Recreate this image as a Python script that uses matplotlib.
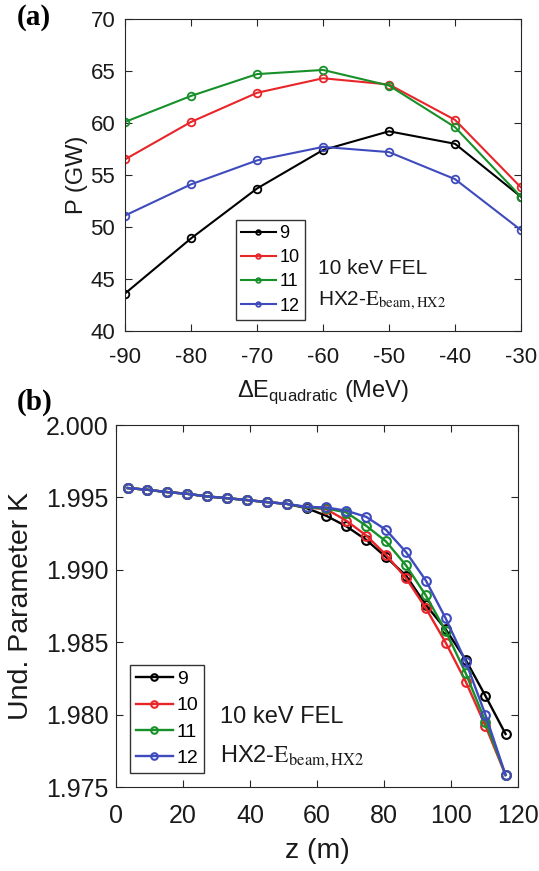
import matplotlib
matplotlib.use("Agg")
import matplotlib.pyplot as plt
import numpy as np

plt.rcParams['font.family'] = ['Liberation Sans', 'DejaVu Sans']
plt.rcParams['axes.unicode_minus'] = False

# ---------------- data ----------------
series_labels = ['9', '10', '11', '12']
colors = ['#000000', '#e8262a', '#17902a', '#3f4bbd']

dE = [-90, -80, -70, -60, -50, -40, -30]
P_9 = [43.6, 48.9, 53.7, 57.4, 59.2, 58.0, 52.9]
P_10 = [56.5, 60.1, 62.9, 64.3, 63.7, 60.3, 53.8]
P_11 = [60.1, 62.6, 64.7, 65.1, 63.6, 59.6, 52.9]
P_12 = [51.1, 54.1, 56.4, 57.7, 57.2, 54.6, 49.7]

z = [3.5, 9.4, 15.3, 21.3, 27.2, 33.1, 39.1, 45.0, 50.9, 56.9,
     62.8, 68.8, 74.7, 80.6, 86.6, 92.5, 98.4, 104.4, 110.3, 116.3]
K_9 = [1.99565, 1.99553, 1.99537, 1.99525, 1.99507, 1.99495, 1.99482, 1.99468, 1.99456,
       1.99426, 1.99373, 1.99300, 1.99207, 1.99088, 1.98960, 1.98758, 1.98590, 1.98378, 1.98129, 1.97866]
K_10 = [1.99565, 1.99553, 1.99537, 1.99525, 1.99507, 1.99495, 1.99482, 1.99468, 1.99456,
        1.99431, 1.99419, 1.99339, 1.99237, 1.99104, 1.98942, 1.98735, 1.98498, 1.98228, 1.97922, 1.97583]
K_11 = [1.99565, 1.99553, 1.99537, 1.99525, 1.99507, 1.99495, 1.99482, 1.99468, 1.99456,
        1.99431, 1.99424, 1.99396, 1.99304, 1.99196, 1.99030, 1.98823, 1.98578, 1.98286, 1.97952, 1.97583]
K_12 = [1.99565, 1.99553, 1.99537, 1.99525, 1.99507, 1.99495, 1.99482, 1.99468, 1.99456,
        1.99435, 1.99431, 1.99408, 1.99366, 1.99276, 1.99122, 1.98926, 1.98666, 1.98366, 1.97998, 1.97583]

xticks_a = [-90, -80, -70, -60, -50, -40, -30]
yticks_a = [40, 45, 50, 55, 60, 65, 70]
xticks_b = [0, 20, 40, 60, 80, 100, 120]
yticks_b = [1.975, 1.980, 1.985, 1.990, 1.995, 2.000]

# ---------------- figure ----------------
fig = plt.figure(figsize=(5.39, 8.71), dpi=100)
axc = '#262626'

ax1 = fig.add_axes([0.2319, 0.6200, 0.7347, 0.3582])
for ys, c, lab in zip([P_9, P_10, P_11, P_12], colors, series_labels):
    ax1.plot(dE, ys, '-o', color=c, lw=1.5, ms=5.5, mfc='none', mew=1.3, label=lab)
ax1.set_xlim(-90, -30)
ax1.set_ylim(40, 70)
ax1.set_xticks(xticks_a)
ax1.set_yticks(yticks_a)
ax1.tick_params(axis='both', direction='in', top=True, right=True, length=5,
                width=0.8, color=axc, labelsize=16, labelcolor='#1a1a1a')
ax1.tick_params(axis='x', pad=11.5)
ax1.tick_params(axis='y', pad=7)
ax1.set_xlabel('ΔE$_\\mathregular{quadratic}$ (MeV)', fontsize=17, color='#1a1a1a')
ax1.set_ylabel('P (GW)', fontsize=17, color='#1a1a1a')
ax1.xaxis.set_label_coords(0.5, -0.153)
ax1.yaxis.set_label_coords(-0.093, 0.5)
leg1 = ax1.legend(loc='lower left', bbox_to_anchor=(0.280, 0.035), borderaxespad=0,
                  fontsize=13, handlelength=1.9, handletextpad=0.2, labelspacing=0.4,
                  borderpad=0.3, fancybox=False, framealpha=1, edgecolor='#333333',
                  markerscale=0.6)
leg1.get_frame().set_linewidth(1.0)
ax1.text(0.487, 0.183, '10 keV FEL', transform=ax1.transAxes, fontsize=15,
         va='baseline', ha='left', color='#1a1a1a')
ax1.text(0.487, 0.083, r'HX2-$\mathrm{E}_{\mathrm{beam,HX2}}$', transform=ax1.transAxes,
         fontsize=15, va='baseline', ha='left', color='#1a1a1a', math_fontfamily='stix')

ax2 = fig.add_axes([0.2152, 0.0964, 0.7458, 0.4156])
for ys, c, lab in zip([K_9, K_10, K_11, K_12], colors, series_labels):
    ax2.plot(z, ys, '-o', color=c, lw=1.7, ms=6.3, mfc='none', mew=1.5, label=lab)
ax2.set_xlim(0, 120)
ax2.set_ylim(1.975, 2.000)
ax2.set_xticks(xticks_b)
ax2.set_yticks(yticks_b)
ax2.set_yticklabels(['%.3f' % v for v in yticks_b])
ax2.tick_params(axis='both', direction='in', top=True, right=True, length=5,
                width=0.8, color=axc, labelsize=18, labelcolor='#1a1a1a')
ax2.tick_params(axis='x', pad=12.5)
ax2.tick_params(axis='y', pad=5.5)
ax2.set_xlabel('z (m)', fontsize=20.5, color='#1a1a1a')
ax2.set_ylabel('Und. Parameter K', fontsize=20.5, color='#1a1a1a')
ax2.xaxis.set_label_coords(0.5, -0.14)
ax2.yaxis.set_label_coords(-0.205, 0.5)
leg2 = ax2.legend(loc='lower left', bbox_to_anchor=(0.035, 0.039), borderaxespad=0,
                  fontsize=14, handlelength=1.9, handletextpad=0.2, labelspacing=0.45,
                  borderpad=0.3, fancybox=False, framealpha=1, edgecolor='#333333',
                  markerscale=0.75)
leg2.get_frame().set_linewidth(1.0)
ax2.text(0.259, 0.177, '10 keV FEL', transform=ax2.transAxes, fontsize=17,
         va='baseline', ha='left', color='#1a1a1a')
ax2.text(0.259, 0.069, r'HX2-$\mathrm{E}_{\mathrm{beam,HX2}}$', transform=ax2.transAxes,
         fontsize=17, va='baseline', ha='left', color='#1a1a1a', math_fontfamily='stix')

for ax in (ax1, ax2):
    for s in ax.spines.values():
        s.set_color(axc)
        s.set_linewidth(0.8)

fig.text(17/539, 1-17.5/871, '(a)', fontfamily='Liberation Serif', fontweight='bold',
         fontsize=21, va='center', ha='left')
fig.text(17/539, 1-402/871, '(b)', fontfamily='Liberation Serif', fontweight='bold',
         fontsize=21, va='center', ha='left')

fig.savefig('out.png', dpi=100)
